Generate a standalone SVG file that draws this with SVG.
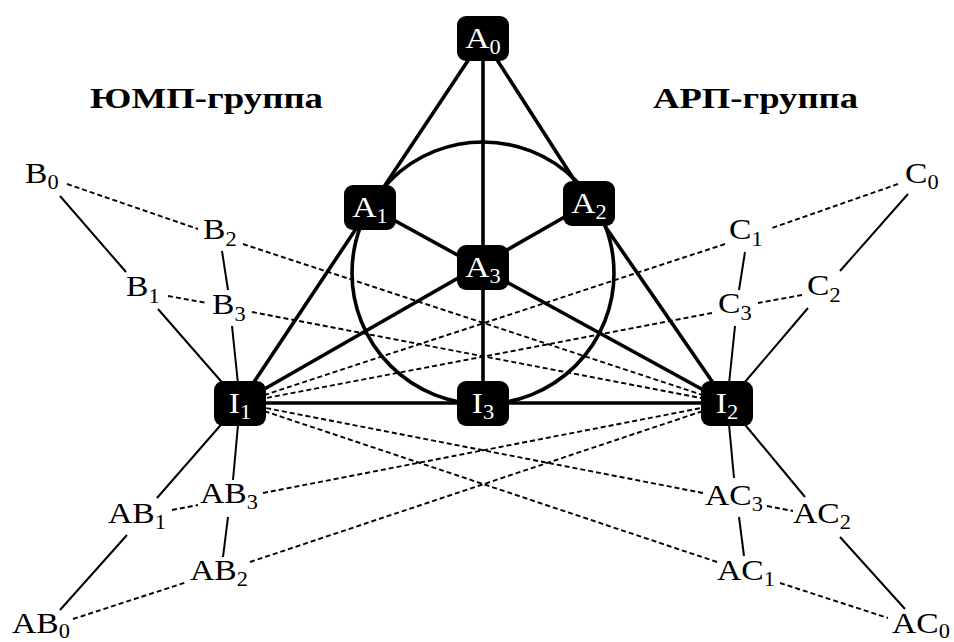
<svg xmlns="http://www.w3.org/2000/svg" width="954" height="642" viewBox="0 0 954 642">
  <style>
    .thick { stroke: #000; stroke-width: 3.6; fill: none; stroke-linecap: round; }
    .thin { stroke: #000; stroke-width: 2; fill: none; }
    .dash { stroke: #000; stroke-width: 1.9; fill: none; stroke-dasharray: 5 3; }
    .box { fill: #000; }
    .lbl { font-family: "Liberation Serif", "Times New Roman", serif; font-size: 30px; fill: #000; }
    .in { fill: #fff; text-anchor: middle; }
    .sub { font-size: 20px; }
    .head { font-family: "Liberation Serif", "Times New Roman", serif; font-size: 30px; font-weight: bold; fill: #000; }
  </style>

  <!-- group headings -->
  <text class="head" x="90" y="108" textLength="233" lengthAdjust="spacingAndGlyphs">ЮМП-группа</text>
  <text class="head" x="653" y="108" textLength="205" lengthAdjust="spacingAndGlyphs">АРП-группа</text>

  <g id="connectors">
    <!-- Fano plane: circle and six lines -->
    <circle class="thick" cx="483" cy="273" r="131"/>
    <line class="thick" x1="483" y1="38" x2="240" y2="403"/>
    <line class="thick" x1="483" y1="38" x2="589" y2="203"/>
    <line class="thick" x1="589" y1="203" x2="727" y2="403"/>
    <line class="thick" x1="483" y1="38" x2="483" y2="403"/>
    <line class="thick" x1="240" y1="403" x2="727" y2="403"/>
    <line class="thick" x1="370" y1="207" x2="727" y2="403"/>
    <line class="thick" x1="589" y1="203" x2="240" y2="403"/>

    <!-- B side, solid -->
    <line class="thin" x1="60" y1="196" x2="126" y2="272"/>
    <line class="thin" x1="158" y1="309" x2="240" y2="403"/>
    <line class="thin" x1="222" y1="251" x2="228" y2="290"/>
    <line class="thin" x1="232" y1="326" x2="240" y2="403"/>
    <!-- B side, dashed -->
    <line class="dash" x1="67" y1="184" x2="198" y2="229"/>
    <line class="dash" x1="243" y1="244" x2="727" y2="403"/>
    <line class="dash" x1="168" y1="296" x2="207" y2="303"/>
    <line class="dash" x1="252" y1="312" x2="727" y2="403"/>

    <!-- C side, solid -->
    <line class="thin" x1="908" y1="194" x2="840" y2="271"/>
    <line class="thin" x1="745" y1="252" x2="739" y2="290"/>
    <line class="thin" x1="808" y1="308" x2="727" y2="403"/>
    <line class="thin" x1="735" y1="326" x2="727" y2="403"/>
    <!-- C side, dashed -->
    <line class="dash" x1="898" y1="184" x2="772" y2="228"/>
    <line class="dash" x1="725" y1="244" x2="240" y2="403"/>
    <line class="dash" x1="802" y1="295" x2="758" y2="303"/>
    <line class="dash" x1="712" y1="313" x2="240" y2="403"/>

    <!-- AB side, solid -->
    <line class="thin" x1="240" y1="403" x2="157" y2="498"/>
    <line class="thin" x1="240" y1="403" x2="233" y2="480"/>
    <line class="thin" x1="127" y1="535" x2="60" y2="610"/>
    <line class="thin" x1="228" y1="517" x2="223" y2="557"/>
    <!-- AB side, dashed -->
    <line class="dash" x1="172" y1="510" x2="198" y2="505"/>
    <line class="dash" x1="263" y1="493" x2="727" y2="403"/>
    <line class="dash" x1="73" y1="619" x2="187" y2="582"/>
    <line class="dash" x1="250" y1="562" x2="727" y2="403"/>

    <!-- AC side, solid -->
    <line class="thin" x1="727" y1="403" x2="734" y2="478"/>
    <line class="thin" x1="727" y1="403" x2="805" y2="497"/>
    <line class="thin" x1="739" y1="517" x2="744" y2="556"/>
    <line class="thin" x1="840" y1="537" x2="905" y2="609"/>
    <!-- AC side, dashed -->
    <line class="dash" x1="767" y1="506" x2="793" y2="511"/>
    <line class="dash" x1="703" y1="493" x2="240" y2="403"/>
    <line class="dash" x1="780" y1="583" x2="888" y2="618"/>
    <line class="dash" x1="717" y1="562" x2="240" y2="403"/>
  </g>

  <!-- black nodes -->
  <g id="A0"><rect class="box" x="457" y="16" width="52" height="45" rx="9"/><text class="lbl in" transform="translate(483,48) scale(1.12,1)">A<tspan class="sub" dy="6">0</tspan></text></g>
  <g id="A1"><rect class="box" x="344" y="185" width="52" height="45" rx="9"/><text class="lbl in" transform="translate(370,217) scale(1.12,1)">A<tspan class="sub" dy="6">1</tspan></text></g>
  <g id="A2"><rect class="box" x="563" y="181" width="52" height="45" rx="9"/><text class="lbl in" transform="translate(589,213) scale(1.12,1)">A<tspan class="sub" dy="6">2</tspan></text></g>
  <g id="A3"><rect class="box" x="457" y="245" width="52" height="45" rx="9"/><text class="lbl in" transform="translate(483,277) scale(1.12,1)">A<tspan class="sub" dy="6">3</tspan></text></g>
  <g id="I1"><rect class="box" x="214" y="381" width="52" height="45" rx="9"/><text class="lbl in" transform="translate(240,413) scale(1.12,1)">I<tspan class="sub" dy="6">1</tspan></text></g>
  <g id="I3"><rect class="box" x="457" y="381" width="52" height="45" rx="9"/><text class="lbl in" transform="translate(483,413) scale(1.12,1)">I<tspan class="sub" dy="6">3</tspan></text></g>
  <g id="I2"><rect class="box" x="701" y="381" width="52" height="45" rx="9"/><text class="lbl in" transform="translate(727,413) scale(1.12,1)">I<tspan class="sub" dy="6">2</tspan></text></g>

  <!-- text nodes -->
  <g id="B0"><text class="lbl" transform="translate(25,183) scale(1.12,1)">B<tspan class="sub" dy="6">0</tspan></text></g>
  <g id="B1"><text class="lbl" transform="translate(126,296) scale(1.12,1)">B<tspan class="sub" dy="7">1</tspan></text></g>
  <g id="B2"><text class="lbl" transform="translate(203,239) scale(1.12,1)">B<tspan class="sub" dy="7">2</tspan></text></g>
  <g id="B3"><text class="lbl" transform="translate(212,314) scale(1.12,1)">B<tspan class="sub" dy="7">3</tspan></text></g>
  <g id="C0"><text class="lbl" transform="translate(905,183) scale(1.12,1)">C<tspan class="sub" dy="6">0</tspan></text></g>
  <g id="C1"><text class="lbl" transform="translate(729,239) scale(1.12,1)">C<tspan class="sub" dy="7">1</tspan></text></g>
  <g id="C2"><text class="lbl" transform="translate(807,295) scale(1.12,1)">C<tspan class="sub" dy="7">2</tspan></text></g>
  <g id="C3"><text class="lbl" transform="translate(718,313) scale(1.12,1)">C<tspan class="sub" dy="7">3</tspan></text></g>
  <g id="AB0"><text class="lbl" transform="translate(12,633) scale(1.12,1)">AB<tspan class="sub" dy="5">0</tspan></text></g>
  <g id="AB1"><text class="lbl" transform="translate(108,523) scale(1.12,1)">AB<tspan class="sub" dy="6">1</tspan></text></g>
  <g id="AB2"><text class="lbl" transform="translate(190,580) scale(1.12,1)">AB<tspan class="sub" dy="6">2</tspan></text></g>
  <g id="AB3"><text class="lbl" transform="translate(200,503) scale(1.12,1)">AB<tspan class="sub" dy="6">3</tspan></text></g>
  <g id="AC0"><text class="lbl" transform="translate(892,633) scale(1.12,1)">AC<tspan class="sub" dy="5">0</tspan></text></g>
  <g id="AC1"><text class="lbl" transform="translate(717,580) scale(1.12,1)">AC<tspan class="sub" dy="6">1</tspan></text></g>
  <g id="AC2"><text class="lbl" transform="translate(793,523) scale(1.12,1)">AC<tspan class="sub" dy="6">2</tspan></text></g>
  <g id="AC3"><text class="lbl" transform="translate(705,505) scale(1.12,1)">AC<tspan class="sub" dy="6">3</tspan></text></g>
</svg>
